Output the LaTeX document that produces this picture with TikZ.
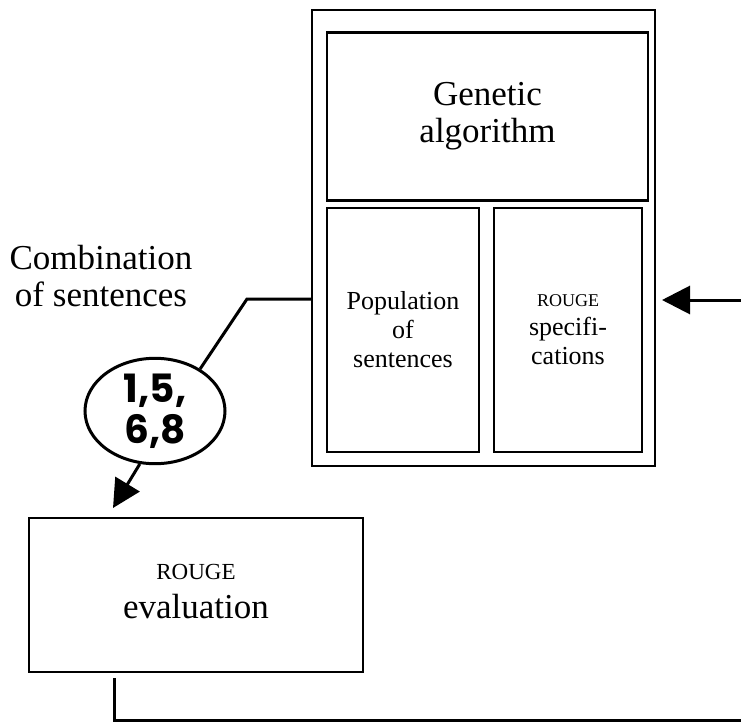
\documentclass[tikz,border=0pt]{standalone}
\usepackage{fontspec}
\setmainfont{Liberation Serif}
\newfontfamily\numfont{Poppins}
\usetikzlibrary{arrows.meta,shapes.geometric}
\begin{document}
\begin{tikzpicture}[x=1pt,y=-1pt,
  box/.style={draw,line width=2.4pt,rectangle,inner sep=0pt,align=center},
  conn/.style={line width=3pt},
  tip/.style={-{Triangle[length=28pt,width=28pt]}},
  bigtxt/.style={font=\fontsize{35}{37}\selectfont},
  midtxt/.style={font=\fontsize{26}{29}\selectfont}]
\useasboundingbox (0,0) rectangle (741,722);

\node[box,minimum width=343pt,minimum height=456pt] (outer) at (483.5,238) {};
\node[box,bigtxt,minimum width=321pt,minimum height=168pt] (ga) at (487.5,116.5) {Genetic\\algorithm};
\node[box,midtxt,minimum width=152pt,minimum height=244pt] (pop) at (403,330) {Population\\of\\sentences};
\node[box,midtxt,minimum width=148pt,minimum height=244pt] (spec) at (568,330) {{\fontsize{18}{29}\selectfont ROUGE}\\specifi-\\cations};
\node[box,minimum width=334pt,minimum height=154pt] (eval) at (196,595) {};
\node[bigtxt,align=center,inner sep=0pt] (evaltxt) at (196,592) {{\fontsize{23}{38}\selectfont ROUGE}\\[2pt]evaluation};
\node[draw,ellipse,line width=3pt,minimum width=140pt,minimum height=102pt,inner sep=0pt,align=center,
      font=\numfont\bfseries\fontsize{39}{41}\selectfont] (ell) at (155,411) {1,5,\\6,8};
\node[bigtxt,align=center,inner sep=0pt] (comb) at (101,276) {Combination\\of sentences};

\coordinate (bend) at (247,299);
\coordinate (evtip) at (113,508);
\coordinate (rin) at (741,300);
\coordinate (rtip) at (662,300);
\coordinate (ft) at (114,678);
\coordinate (fb) at (114,720);
\coordinate (fe) at (741,720);

\draw[conn] (outer.west |- bend) -- (bend) -- (ell.43);
\draw[conn,tip] (ell.254) -- (evtip);
\draw[conn,tip] (rin) -- (rtip);
\draw[conn] (ft) -- (fb) -- (fe);
\end{tikzpicture}
\end{document}
